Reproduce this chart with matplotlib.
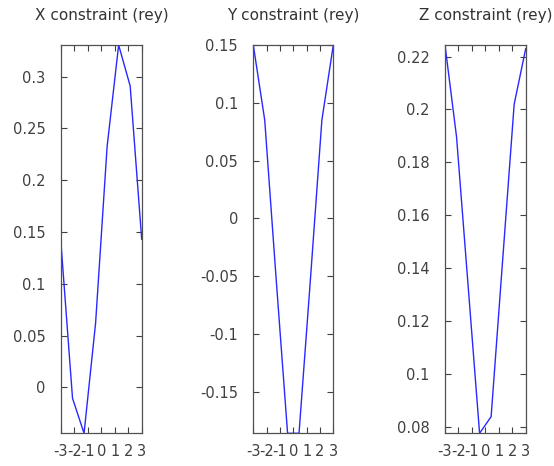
import numpy as np
import matplotlib
matplotlib.use("Agg")
import matplotlib.pyplot as plt
from matplotlib.ticker import FuncFormatter, MultipleLocator

# sample positions shared by the three panels
xs = [-3.0, -2.143, -1.286, -0.429, 0.429, 1.286, 2.143, 3.0]

# constraint values
x_con = [0.139, -0.0106, -0.0444, 0.0619, 0.2326, 0.3306, 0.291, 0.143]
y_con = [0.15, 0.085, -0.0525, -0.186, -0.186, -0.0525, 0.085, 0.15]
z_con = [0.2244, 0.1897, 0.1336, 0.0775, 0.0838, 0.143, 0.202, 0.223]

titles = ["X constraint (rey)", "Y constraint (rey)", "Z constraint (rey)"]
series = [x_con, y_con, z_con]
ysteps = [0.05, 0.05, 0.02]

W, H = 554, 466
fig = plt.figure(figsize=(W / 100, H / 100), dpi=100)

# axes boxes in pixels: left, right
boxes = [(61, 141.7), (253.3, 333.3), (445, 525.7)]
top, bottom = 45, 433.3

txt = "#404040"
for (l, r), ys, title, step in zip(boxes, series, titles, ysteps):
	ax = fig.add_axes([l / W, 1 - bottom / H, (r - l) / W, (bottom - top) / H])
	ax.plot(xs, ys, color="#2828ff", lw=1.0)
	ax.set_xlim(-3, 3)
	ax.set_ylim(min(ys), max(ys))
	ax.xaxis.set_major_locator(MultipleLocator(1))
	ax.yaxis.set_major_locator(MultipleLocator(step))
	ax.yaxis.set_major_formatter(FuncFormatter(lambda v, p: "%g" % round(v, 6)))
	ax.xaxis.set_major_formatter(FuncFormatter(lambda v, p: "%g" % v))
	ax.tick_params(direction="in", top=True, right=True, length=4, width=0.8,
		colors="#404040", labelcolor=txt, labelsize=10.5)
	ax.tick_params(axis="y", pad=11)
	ax.tick_params(axis="x", pad=8)
	for s in ax.spines.values():
		s.set_color("#505050")
		s.set_linewidth(0.9)
	ax.set_title(title, fontsize=11, color="#333333", pad=18)

fig.savefig("out.png", dpi=100)
